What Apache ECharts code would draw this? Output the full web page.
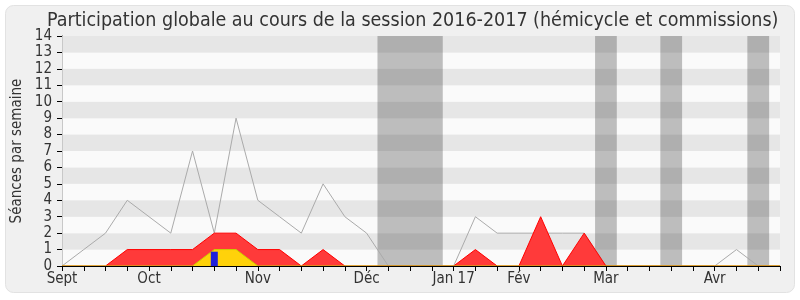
<!DOCTYPE html>
<html>
<head>
<meta charset="utf-8">
<script src="https://cdn.jsdelivr.net/npm/echarts@6/dist/echarts.min.js"></script>
<style>html,body{margin:0;padding:0;background:#fff;}#c{width:800px;height:300px;}</style>
</head>
<body>
<div id="c"></div>
<script>
// Week tick labels (one per week, 34 weeks)
const weekLabels = ['Sept','','','','Oct','','','','','Nov','','','','','Déc','','','','Jan 17','','','Fév','','','','Mar','','','','','Avr','','',''];
// Total presence per week (grey line)
const totalPresence = [0,1,2,4,3,2,7,2,9,4,3,2,5,3,2,0,0,0,0,3,2,2,2,2,2,0,0,0,0,0,0,1,0,0];
// Commission presence (red area)
const commissionPresence = [0,0,0,1,1,1,1,2,2,1,1,0,1,0,0,0,0,0,0,1,0,0,3,0,2,0,0,0,0,0,0,0,0,0];
// Hemicycle presence (yellow area)
const hemicyclePresence = [0,0,0,0,0,0,0,1,1,0,0,0,0,0,0,0,0,0,0,0,0,0,0,0,0,0,0,0,0,0,0,0,0,0];
// Questions (blue bar): [week, value]
const questions = [[7,0.87]];
// Vacation weeks (shaded): [firstWeek, lastWeek]
const vacations = [[15,17],[25,25],[28,28],[32,32]];
const yTicks = [0,1,2,3,4,5,6,7,8,9,10,11,12,13,14];

const pairs = arr => arr.map((v,i)=>[i,v]);
const FONT = 'DejaVu Sans Condensed';
const chart = echarts.init(document.getElementById('c'), null, {renderer:'canvas'});
chart.setOption({
  backgroundColor:'#ffffff',
  animation:false,
  graphic:[{type:'rect',z:-10,silent:true,shape:{x:5.5,y:5.5,width:789,height:287,r:8},style:{fill:'#f0f0f0',stroke:'#e2e2e2',lineWidth:1}}],
  title:{text:'Participation globale au cours de la session 2016-2017 (hémicycle et commissions)',left:42,top:6,
    textStyle:{fontFamily:FONT,fontSize:19.5,fontWeight:'normal',color:'#333'}},
  grid:{left:62,right:20,top:36,bottom:34},
  xAxis:[{type:'value',min:0,max:weekLabels.length-1,interval:1,z:10,
    axisLine:{show:true,lineStyle:{color:'#000',width:1}},
    axisTick:{show:true,length:5,lineStyle:{color:'#000'}},
    axisLabel:{show:true,showMinLabel:true,showMaxLabel:true,margin:6,fontFamily:FONT,fontSize:15,color:'#333',formatter:v=>weekLabels[Math.round(v)]||''},
    splitLine:{show:false}},
   {type:'value',position:'top',min:0,max:weekLabels.length-1,interval:1,
    axisLine:{show:false},axisTick:{show:true,inside:true,length:2,lineStyle:{color:'#000'}},axisLabel:{show:false},splitLine:{show:false}}],
  yAxis:[{type:'value',min:0,max:yTicks[yTicks.length-1],interval:1,
    name:'Séances par semaine',nameLocation:'middle',nameGap:37,nameMoveOverlap:false,nameTextStyle:{fontFamily:FONT,fontSize:15,color:'#333'},
    axisLine:{show:true,lineStyle:{color:'#000'}},
    axisTick:{show:true,length:5,lineStyle:{color:'#000'}},
    axisLabel:{fontFamily:FONT,fontSize:15,color:'#333',margin:10},
    splitLine:{show:false},
    splitArea:{show:true,areaStyle:{color:['#fafafa','#e6e6e6']}}},
   {type:'value',position:'right',min:0,max:yTicks[yTicks.length-1],interval:1,
    axisLine:{show:true,lineStyle:{color:'#c8c8c8'}},axisTick:{show:false},axisLabel:{show:false},splitLine:{show:false}}],
  series:[
    {name:'total',type:'line',data:pairs(totalPresence),symbol:'none',z:1,lineStyle:{color:'#aaaaaa',width:1}},
    {name:'commission',type:'line',data:pairs(commissionPresence),symbol:'none',z:2,lineStyle:{color:'#ff0000',width:1},areaStyle:{color:'#ff3a3a',opacity:1}},
    {name:'hemicycle',type:'line',data:pairs(hemicyclePresence),symbol:'none',z:3,lineStyle:{color:'#c8d200',width:1},areaStyle:{color:'#ffd20a',opacity:1}},
    {name:'questions',type:'bar',data:questions,barWidth:7,z:4,itemStyle:{color:'#2020dd'}},
    {name:'vacances',type:'line',data:[],z:5,markArea:{silent:true,itemStyle:{color:'rgba(50,50,50,0.3)'},
      data:vacations.map(v=>[{xAxis:v[0]-0.5},{xAxis:v[1]+0.5}])}}
  ]
});
</script>
</body>
</html>
